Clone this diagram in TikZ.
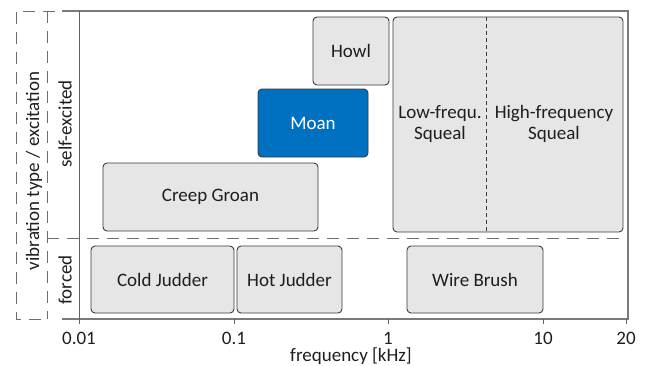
\documentclass[tikz,border=0pt]{standalone}
\usepackage{fontspec}
\setmainfont{Carlito}
\usetikzlibrary{positioning}

\definecolor{boxgray}{HTML}{E6E6E6}
\definecolor{moanblue}{HTML}{0070C0}
\definecolor{framegray}{HTML}{7A7A7A}
\definecolor{edgegray}{HTML}{3A3A3A}
\definecolor{inkgray}{HTML}{1E1E1E}

\tikzset{
  noisebox/.style={draw=edgegray, fill=boxgray, text=inkgray, rounded corners=4pt,
    line width=0.9pt, inner sep=0pt, outer sep=0pt, align=center,
    font=\fontsize{19}{20.5}\selectfont},
  ticklabel/.style={text=inkgray, inner sep=1pt, font=\fontsize{19}{20.5}\selectfont},
  zoneline/.style={draw=framegray!90!black, line width=1pt, dash pattern=on 12pt off 8pt},
}

\begin{document}
\begin{tikzpicture}[x=1pt,y=-1pt]
  \useasboundingbox (0,0) rectangle (650,365);

  % Frame and axes
  \draw[framegray, line width=1.2pt] (62,11) -- (628,11) -- (628,319) -- (62,319);
  \draw[edgegray!80, line width=1pt] (79,11) -- (79,324);

  % Zones on the left
  \draw[zoneline] (55,11) -- (16,11) -- (16,319) -- (47,319);
  \draw[zoneline] (47,11) -- (47,319);
  \draw[zoneline] (47,238) -- (628,238);
  \node[ticklabel, rotate=90] (vibtype) at (34,171) {vibration type / excitation};
  \node[ticklabel, rotate=90] (selfexc) at (65,124) {self-excited};
  \node[ticklabel, rotate=90] (forced) at (65,280) {forced};

  % Ticks
  \foreach \xpos/\lbl/\nm in {79/0.01/ta, 234/0.1/tb, 388/1/tc, 543/10/td, 626/20/te} {
    \draw[edgegray!80, line width=1pt] (\xpos,319) -- (\xpos,324);
    \node[ticklabel] (\nm) at (\xpos,338) {\lbl};
  }
  \node[ticklabel] (xlabel) at (351,356) {frequency [kHz]};

  % Self-excited noises
  \node[noisebox, minimum width=76pt, minimum height=68pt] (howl) at (351,51) {Howl};
  \node[noisebox, fill=moanblue, text=white, minimum width=110pt, minimum height=68pt] (moan) at (313,123) {Moan};
  \node[noisebox, minimum width=215pt, minimum height=68pt] (creep) at (210.5,197) {Creep Groan};
  \node[noisebox, minimum width=230pt, minimum height=215pt] (squeal) at (508,124.5) {};
  \coordinate (divtop) at (486,17);
  \coordinate (divbot) at (486,232);
  \draw[edgegray, line width=0.9pt, dash pattern=on 4pt off 3pt] (divtop) -- (divbot);
  \node[ticklabel, align=center] (lowsq) at (440,124) {Low-frequ.\\Squeal};
  \node[ticklabel, align=center] (highsq) at (554,124) {High-frequency\\Squeal};

  % Forced noises
  \node[noisebox, minimum width=143pt, minimum height=67pt] (cold) at (162.5,279.5) {Cold Judder};
  \node[noisebox, minimum width=105pt, minimum height=67pt] (hot) at (289.5,279.5) {Hot Judder};
  \node[noisebox, minimum width=136pt, minimum height=67pt] (wire) at (475,279.5) {Wire Brush};
\end{tikzpicture}
\end{document}
